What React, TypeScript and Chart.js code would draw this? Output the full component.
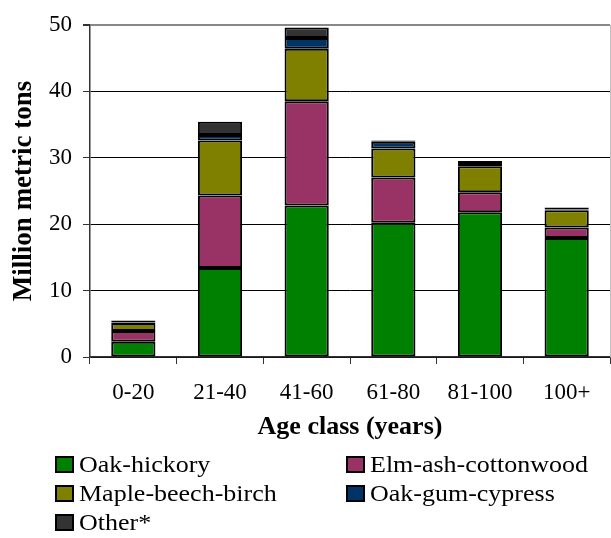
import React, { useEffect, useRef } from "react";
import { Chart, registerables } from "chart.js";

Chart.register(...registerables);

const categories = ["0-20", "21-40", "41-60", "61-80", "81-100", "100+"];
const oakHickory = [2.3, 13.4, 22.8, 20.2, 21.8, 17.9];
const elmAshCottonwood = [1.6, 10.9, 15.7, 6.8, 3.0, 1.6];
const mapleBeechBirch = [1.2, 8.3, 7.9, 4.4, 3.9, 2.6];
const oakGumCypress = [0.1, 0.8, 1.6, 1.0, 0.5, 0.1];
const other = [0.3, 2.0, 1.6, 0.2, 0.3, 0.3];
const seriesNames = ["Oak-hickory", "Elm-ash-cottonwood", "Maple-beech-birch", "Oak-gum-cypress", "Other*"];
const seriesColors = ["#008000", "#993366", "#808000", "#003366", "#333333"];
const yTicks = [0, 10, 20, 30, 40, 50];

const FONT = "'Liberation Serif', 'Times New Roman', serif";

const legendPlugin = {
  id: "gridLegend",
  afterDraw(chart: any) {
    const ctx = chart.ctx;
    const area = chart.chartArea;
    ctx.save();
    ctx.strokeStyle = "#c0c0c0";
    ctx.lineWidth = 1;
    ctx.beginPath();
    ctx.moveTo(area.right + 0.5, area.top);
    ctx.lineTo(area.right + 0.5, area.bottom);
    ctx.stroke();

    const cols = [56, 347];
    const rows = [457, 486, 515];
    chart.data.datasets.forEach((ds: any, i: number) => {
      const x = cols[i % 2];
      const y = rows[Math.floor(i / 2)];
      ctx.fillStyle = ds.backgroundColor;
      ctx.fillRect(x, y, 17, 15);
      ctx.strokeStyle = "#000";
      ctx.lineWidth = 2;
      ctx.strokeRect(x, y, 17, 15);
      ctx.save();
      ctx.translate(x + 23, y + 15);
      ctx.scale(1.13, 1);
      ctx.font = `23px ${FONT}`;
      ctx.textBaseline = "alphabetic";
      ctx.textAlign = "left";
      ctx.fillStyle = "#000";
      ctx.fillText(ds.label, 0, 0);
      ctx.restore();
    });
    ctx.restore();
  },
};

export default function App() {
  const ref = useRef<HTMLCanvasElement>(null);
  useEffect(() => {
    if (!ref.current) return;
    const data = [oakHickory, elmAshCottonwood, mapleBeechBirch, oakGumCypress, other];
    const chart = new Chart(ref.current, {
      type: "bar",
      data: {
        labels: categories,
        datasets: data.map((d, i) => ({
          label: seriesNames[i],
          data: d,
          backgroundColor: seriesColors[i],
          borderColor: "#000",
          borderWidth: 2,
          borderSkipped: false,
          barPercentage: 0.51,
          categoryPercentage: 1,
        })),
      },
      options: {
        animation: false,
        responsive: false,
        devicePixelRatio: 1,
        layout: { padding: { top: 18, right: 1, left: 0, bottom: 90 } },
        plugins: {
          legend: { display: false },
          tooltip: { enabled: false },
        },
        scales: {
          x: {
            stacked: true,
            afterFit: (s: any) => {
              s.height = 91;
            },
            grid: {
              display: true,
              offset: true,
              drawOnChartArea: false,
              drawTicks: true,
              tickLength: 7,
              color: "#333",
            },
            border: { display: true, color: "#333", width: 1.5 },
            ticks: { color: "#000", padding: 15, font: { family: FONT, size: 23 } },
            title: {
              display: true,
              text: "Age class (years)",
              color: "#000",
              font: { family: FONT, size: 26, weight: "bold" },
              padding: { top: 0, bottom: 5 },
            },
          },
          y: {
            stacked: true,
            min: 0,
            max: 50,
            afterFit: (s: any) => {
              s.width = 90;
            },
            afterBuildTicks: (s: any) => {
              s.ticks = yTicks.map((v) => ({ value: v }));
            },
            grid: {
              color: (c: any) => (c.tick && c.tick.value === 50 ? "#888" : "#000"),
              lineWidth: (c: any) => (c.tick && c.tick.value === 50 ? 2 : 1),
              tickColor: "#333",
              tickLength: 7,
            },
            border: { display: true, color: "#333", width: 1.5 },
            ticks: { color: "#000", padding: 11, font: { family: FONT, size: 23 } },
            title: {
              display: true,
              text: "Million metric tons",
              color: "#000",
              font: { family: FONT, size: 27, weight: "bold" },
              padding: { top: 8, bottom: 0 },
            },
          },
        },
      },
      plugins: [legendPlugin],
    });
    return () => chart.destroy();
  }, []);
  return (
    <div style={{ position: "absolute", left: 0, top: 0, width: 611, height: 538, background: "#fff" }}>
      <canvas ref={ref} width={611} height={538} />
    </div>
  );
}
